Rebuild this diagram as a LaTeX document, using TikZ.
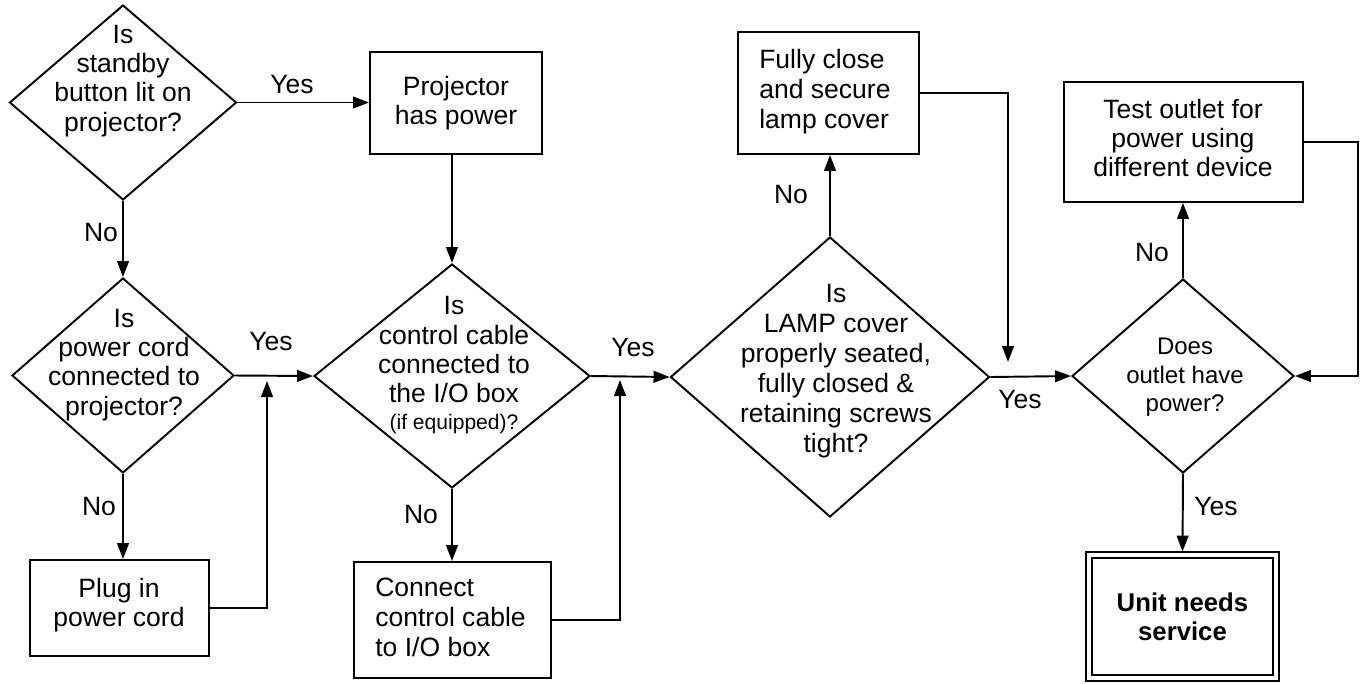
\documentclass[tikz,border=0pt]{standalone}
\usepackage{fontspec}
\setmainfont{Liberation Sans}
\usetikzlibrary{shapes.geometric,arrows.meta}
\tikzset{
  lw/.style={line width=1.45pt},
  dia/.style 2 args={draw, diamond, lw, minimum width=#1*0.75pt, minimum height=#2*0.75pt, inner sep=0pt},
  box/.style 2 args={draw, rectangle, lw, minimum width=#1*0.75pt, minimum height=#2*0.75pt, inner sep=0pt},
  txt/.style={align=center, inner sep=0pt, font=\fontsize{19.9}{21.9}\selectfont},
  ltxt/.style={align=left, inner sep=0pt, anchor=west, font=\fontsize{19.9}{22.5}\selectfont},
  lbl/.style={inner sep=0pt, font=\fontsize{19.9}{22}\selectfont},
  arr/.style={lw, -{Triangle[length=12pt,width=8.8pt]}},
  con/.style={lw},
}
\begin{document}
\begin{tikzpicture}[x=0.75pt,y=-0.75pt]
\useasboundingbox[fill=white] (0,0) rectangle (1366,683);

% decision shapes
\node[dia={227}{195}] (d1) at (123,102.5) {};
\node[dia={222}{195}] (d2) at (123,375.5) {};
\node[dia={276}{224}] (d3) at (452,376) {};
\node[dia={319}{280}] (d4) at (830,377) {};
\node[dia={222}{194}] (d5) at (1183,376) {};

% decision texts
\node[txt] (d1t) at (123,81) {Is\\standby\\button lit on\\projector?};
\node[txt] (d2t) at (124,365) {Is\\power cord\\connected to\\projector?};
\node[txt] (d3t) at (454,365) {Is\\control cable\\connected to\\the I/O box\\[-2pt]{\fontsize{15.8}{18}\selectfont (if equipped)?}};
\node[txt, font=\fontsize{19.9}{22.6}\selectfont] (d4t) at (836,371) {Is\\LAMP cover\\properly seated,\\fully closed \&\\retaining screws\\tight?};
\node[txt, font=\fontsize{18}{21.4}\selectfont] (d5t) at (1185,377.5) {Does\\outlet have\\power?};

% process boxes
\node[box={172}{102}] (b1) at (456,103) {};
\node[txt] (b1t) at (456,103.3) {Projector\\has power};
\node[box={179}{96}] (b2) at (119.5,608) {};
\node[txt] (b2t) at (119,605.3) {Plug in\\power cord};
\node[box={197}{116}] (b3) at (452.5,620) {};
\node[ltxt] (b3t) at (375,617.8) {Connect\\control cable\\to I/O box};
\node[box={181}{122}] (b4) at (828.5,93) {};
\node[ltxt] (b4t) at (759,91.3) {Fully close\\and secure\\lamp cover};
\node[box={239}{120}] (b5) at (1183.5,142) {};
\node[txt] (b5t) at (1183,138) {Test outlet for\\power using\\different device};
\node[box={187}{123}, double, double distance=3.2pt, outer sep=2.6pt] (b6) at (1182.5,616.5) {};
\node[txt, font=\fontsize{19.3}{21.8}\selectfont\bfseries] (b6t) at (1182.5,617) {Unit needs\\service};

% junction coordinates
\coordinate (j1) at (267,381);
\coordinate (j2) at (620,380);
\coordinate (j3) at (1008,362);
\coordinate (j4) at (1358,0);

% connectors
\draw[arr] (d1.east) -- (d1.east -| b1.west);
\draw[arr] (d1.south) -- (d2.north);
\draw[arr] (d2.east) -- (d3.west);
\draw[arr] (d2.south) -- (d2.south |- b2.north);
\draw[arr] (b2.east) -| (j1);
\draw[arr] (d3.north |- b1.south) -- (d3.north);
\draw[arr] (d3.east) -- (d4.west);
\draw[arr] (d3.south) -- (d3.south |- b3.north);
\draw[arr] (b3.east) -| (j2);
\draw[arr] (d4.north) -- (d4.north |- b4.south);
\draw[arr] (b4.east) -| (j3);
\draw[arr] (d4.east) -- (d5.west);
\draw[arr] (d5.north) -- (d5.north |- b5.south);
\draw[arr] (b5.east) -| (j4 |- d5.east) -- (d5.east);
\draw[arr] (d5.south) -- (b6.north);

% labels
\node[lbl] (l1) at (292,84) {Yes};
\node[lbl] (l2) at (101,232) {No};
\node[lbl] (l3) at (271,341) {Yes};
\node[lbl] (l4) at (99,506) {No};
\node[lbl] (l5) at (633,347) {Yes};
\node[lbl] (l6) at (421,514) {No};
\node[lbl] (l7) at (791,194) {No};
\node[lbl] (l8) at (1020,399) {Yes};
\node[lbl] (l9) at (1152,252) {No};
\node[lbl] (l10) at (1216,506) {Yes};
\end{tikzpicture}
\end{document}
